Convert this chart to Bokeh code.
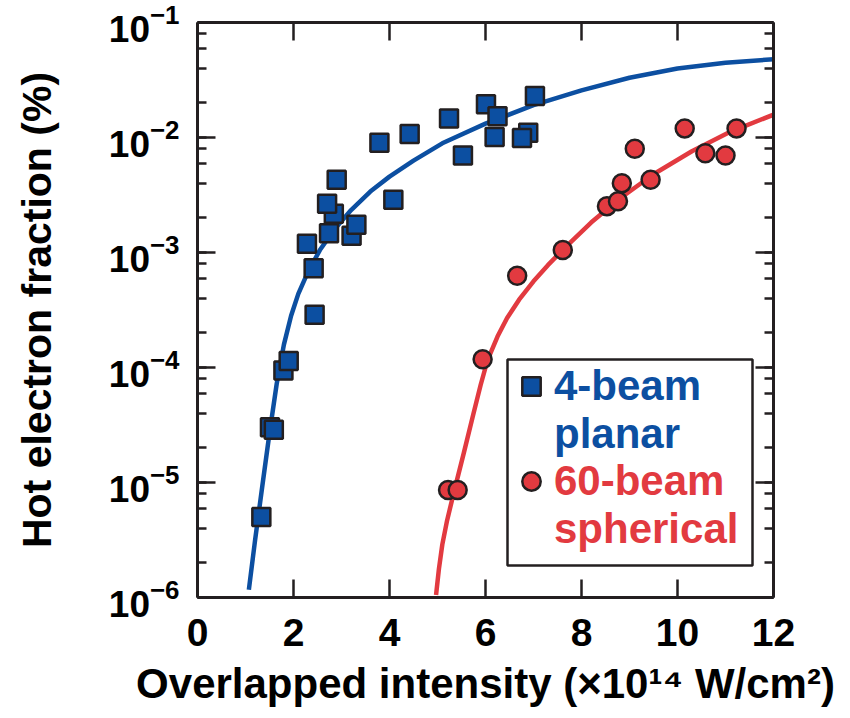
from bokeh.plotting import figure
from bokeh.models import (LinearAxis, LogAxis, Range1d, FixedTicker, LogTicker,
                          Legend, LegendItem, BoxAnnotation, CustomJSTickFormatter)
from bokeh.embed import file_html
from bokeh.resources import INLINE

# ---------------- data ----------------
planar_x = [1.33, 1.51, 1.59, 1.79, 1.90, 2.44, 2.42, 2.28, 2.74, 3.21, 3.31, 2.84, 2.70,
            2.90, 4.08, 3.79, 4.42, 5.24, 5.53, 6.01, 6.25, 6.19, 6.89, 6.76, 7.03]
planar_y = [5.0e-6, 3.03e-5, 2.87e-5, 9.4e-5, 1.14e-4, 2.87e-4, 7.3e-4, 1.19e-3, 1.47e-3,
            1.40e-3, 1.74e-3, 2.17e-3, 2.65e-3, 4.29e-3, 2.87e-3, 9.0e-3, 1.07e-2, 1.46e-2,
            6.97e-3, 1.95e-2, 1.53e-2, 1.01e-2, 1.10e-2, 9.9e-3, 2.30e-2]

spherical_x = [5.22, 5.42, 5.94, 6.66, 7.61, 8.53, 8.76, 8.84, 9.44, 9.11, 10.15, 10.58, 11.00, 11.23]
spherical_y = [8.6e-6, 8.6e-6, 1.18e-4, 6.27e-4, 1.05e-3, 2.53e-3, 2.79e-3, 4.01e-3, 4.29e-3,
               7.98e-3, 1.20e-2, 7.29e-3, 6.97e-3, 1.20e-2]

# fitted curves
planar_fit_x = [1.07, 1.20, 1.35, 1.50, 1.65, 1.80, 1.95, 2.10, 2.30, 2.55, 2.85, 3.20,
                3.60, 4.00, 4.50, 5.10, 6.00, 7.00, 8.00, 9.00, 10.00, 11.00, 12.00]
planar_fit_y = [1.17e-6, 3.16e-6, 9.3e-6, 2.69e-5, 7.2e-5, 1.58e-4, 2.82e-4, 4.37e-4,
                6.76e-4, 1.05e-3, 1.58e-3, 2.34e-3, 3.39e-3, 4.57e-3, 6.3e-3, 8.9e-3,
                1.32e-2, 1.91e-2, 2.57e-2, 3.31e-2, 3.98e-2, 4.47e-2, 4.79e-2]

spherical_fit_x = [4.97, 5.03, 5.10, 5.20, 5.35, 5.55, 5.75, 5.90, 6.00, 6.10, 6.25, 6.45,
                   6.70, 7.00, 7.30, 7.70, 8.20, 8.80, 9.50, 10.30, 11.10, 12.00]
spherical_fit_y = [1.05e-6, 1.78e-6, 2.88e-6, 4.68e-6, 8.5e-6, 1.82e-5, 3.98e-5, 7.08e-5,
                   1.0e-4, 1.32e-4, 1.86e-4, 2.69e-4, 3.89e-4, 5.62e-4, 7.76e-4, 1.15e-3,
                   1.82e-3, 2.95e-3, 4.79e-3, 7.59e-3, 1.12e-2, 1.58e-2]

x_ticks = [0, 2, 4, 6, 8, 10, 12]
label_planar = ["4-beam", "planar"]
label_spherical = ["60-beam", "spherical"]

# ---------------- style ----------------
INK = "#231f20"
BLUE = "#0c4fa1"
RED = "#e23a40"
FONT = "Liberation Sans"

p = figure(width=850, height=718, x_range=Range1d(0, 12), y_range=Range1d(1e-6, 1e-1),
           y_axis_type="log", output_backend="svg", toolbar_location=None,
           min_border_left=197, min_border_right=77, min_border_top=22, min_border_bottom=121,
           background_fill_color="white", border_fill_color="white")
p.outline_line_color = None
p.xgrid.visible = False
p.ygrid.visible = False

def style_axis(ax, label_size):
    ax.axis_line_color = INK
    ax.axis_line_width = 3
    ax.major_tick_line_color = INK
    ax.major_tick_line_width = 2.5
    ax.minor_tick_line_color = INK
    ax.minor_tick_line_width = 2.5
    ax.major_tick_in = 18
    ax.major_tick_out = 0
    ax.minor_tick_out = 0
    ax.major_label_text_font = FONT
    ax.major_label_text_font_style = "bold"
    ax.major_label_text_color = "black"
    ax.major_label_text_font_size = label_size

# bottom axis
xa = p.xaxis[0]
xa.ticker = FixedTicker(ticks=x_ticks, minor_ticks=[])
style_axis(xa, "39px")
xa.minor_tick_in = 0
xa.major_label_standoff = 21
xa.axis_label = "Overlapped intensity (\u00d710\u00b9\u2074 W/cm\u00b2)"
xa.axis_label_text_font = FONT
xa.axis_label_text_font_style = "bold"
xa.axis_label_text_font_size = "42px"
xa.axis_label_text_color = "black"
xa.axis_label_standoff = 11

# left axis
ya = p.yaxis[0]
ya.ticker = LogTicker()
style_axis(ya, "37px")
ya.minor_tick_in = 9
ya.major_label_standoff = 18
ya.axis_label = "Hot electron fraction (%)"
ya.axis_label_text_font = FONT
ya.axis_label_text_font_style = "bold"
ya.axis_label_text_font_size = "41px"
ya.axis_label_text_color = "black"
ya.axis_label_standoff = 46

# top & right mirror axes (ticks only)
blank = CustomJSTickFormatter(code="return ''")
top = LinearAxis(ticker=FixedTicker(ticks=x_ticks, minor_ticks=[]), formatter=blank)
style_axis(top, "12px")
top.minor_tick_in = 0
top.major_label_standoff = 0
p.add_layout(top, "above")

right = LogAxis(ticker=LogTicker(), formatter=blank)
style_axis(right, "12px")
right.minor_tick_in = 9
right.major_label_standoff = 0
p.add_layout(right, "right")

# curves
p.line(planar_fit_x, planar_fit_y, line_color=BLUE, line_width=4.5, line_join="round")
p.line(spherical_fit_x, spherical_fit_y, line_color=RED, line_width=4.5, line_join="round")

# points
sq = p.scatter(planar_x, planar_y, marker="square", size=18, fill_color=BLUE,
               line_color=INK, line_width=2.5)
ci = p.scatter(spherical_x, spherical_y, marker="circle", size=18, fill_color=RED,
               line_color=INK, line_width=2.5)

# legend frame
box = BoxAnnotation(left=310, right=555, bottom=32, top=238,
                    left_units="screen", right_units="screen",
                    bottom_units="screen", top_units="screen",
                    fill_color="white", fill_alpha=1.0,
                    line_color=INK, line_alpha=1.0, line_width=2.5)
p.add_layout(box)

def make_legend(labels, renderer, color, loc):
    items = [LegendItem(label=labels[0], renderers=[renderer]),
             LegendItem(label=labels[1], renderers=[])]
    lg = Legend(items=items, location=loc, orientation="vertical",
                glyph_width=46, glyph_height=46, label_height=46,
                label_standoff=0, spacing=0, padding=0, margin=0,
                label_text_font=FONT, label_text_font_style="bold",
                label_text_font_size="42px", label_text_color=color,
                border_line_color=None, background_fill_alpha=0)
    return lg

p.add_layout(make_legend(label_planar, sq, BLUE, (311, 139)))
p.add_layout(make_legend(label_spherical, ci, RED, (311, 44)))

open("out.html", "w").write(file_html(p, INLINE))
